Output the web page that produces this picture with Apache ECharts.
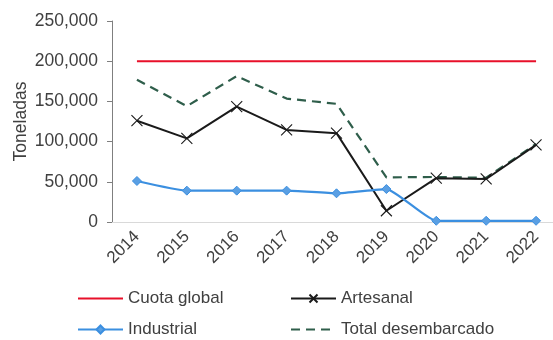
<!DOCTYPE html>
<html>
<head>
<meta charset="utf-8">
<script src="https://cdn.jsdelivr.net/npm/echarts@6/dist/echarts.min.js"></script>
<style>
  html, body { margin: 0; padding: 0; background: #fff; overflow: hidden; }
  /* plot area runs a little past the right edge of the window */
  #chart { width: 561px; height: 340px; }
</style>
</head>
<body>
<div id="chart"></div>
<script>
// Years on the category axis
const years = ['2014', '2015', '2016', '2017', '2018', '2019', '2020', '2021', '2022'];
// Landings and quota, in tonnes
const cuotaGlobal = [200000, 200000, 200000, 200000, 200000, 200000, 200000, 200000, 200000];
const artesanal = [126000, 104000, 143500, 114500, 110500, 14000, 54500, 53500, 96000];
const industrial = [51000, 39000, 39000, 39000, 35700, 41000, 1500, 1500, 1500];
const totalDesembarcado = [177000, 144000, 181500, 153500, 147000, 55500, 56000, 55000, 97000];

const font = 'Liberation Sans, Arial, sans-serif';
const txt = '#404040';
const crossPath = 'path://M0,0L10,10M10,0L0,10';

const chart = echarts.init(document.getElementById('chart'), null, { renderer: 'canvas' });

const legendBase = {
  itemWidth: 45,
  itemHeight: 10,
  textStyle: { fontFamily: font, fontSize: 17, color: txt },
  itemGap: 0,
  padding: 0
};

chart.setOption({
  animation: false,
  backgroundColor: '#fff',
  grid: { left: 112, right: 0, top: 21, bottom: 118, containLabel: false },
  legend: [
    Object.assign({ data: [{ name: 'Cuota global', itemStyle: { opacity: 0 } }], left: 77, top: 290 }, legendBase),
    Object.assign({ data: ['Artesanal'], left: 290, top: 290 }, legendBase),
    Object.assign({ data: ['Industrial'], left: 77, top: 321 }, legendBase),
    Object.assign({ data: [{ name: 'Total desembarcado', itemStyle: { opacity: 0 } }], left: 290, top: 321 }, legendBase)
  ],
  xAxis: {
    type: 'category',
    data: years,
    boundaryGap: true,
    axisLine: { lineStyle: { color: '#d9d9d9', width: 1 } },
    axisTick: { show: false },
    axisLabel: {
      rotate: 45,
      interval: 0,
      fontFamily: font,
      fontSize: 17,
      color: txt,
      margin: 12
    }
  },
  yAxis: {
    type: 'value',
    min: 0,
    max: 250000,
    interval: 50000,
    name: 'Toneladas',
    nameLocation: 'middle',
    nameGap: 82,
    nameMoveOverlap: false,
    nameTextStyle: { fontFamily: font, fontSize: 17.5, color: txt },
    axisLine: { show: true, lineStyle: { color: '#7f7f7f', width: 1 } },
    axisTick: { show: true, length: 5, lineStyle: { color: '#7f7f7f' } },
    splitLine: { show: false },
    axisLabel: {
      fontFamily: font,
      fontSize: 17.5,
      color: txt,
      margin: 14,
      formatter: v => v.toLocaleString('en-US')
    }
  },
  series: [
    {
      name: 'Cuota global',
      type: 'line',
      data: cuotaGlobal,
      symbol: 'none',
      lineStyle: { color: '#e8102a', width: 2 },
      itemStyle: { color: '#e8102a' },
      z: 2
    },
    {
      name: 'Total desembarcado',
      type: 'line',
      data: totalDesembarcado,
      symbol: 'none',
      lineStyle: { color: '#2f5e4b', width: 2.2, type: [9, 6] },
      itemStyle: { color: '#2f5e4b' },
      z: 3
    },
    {
      name: 'Artesanal',
      type: 'line',
      data: artesanal,
      symbol: crossPath,
      symbolSize: 11,
      showAllSymbol: true,
      lineStyle: { color: '#1a1a1a', width: 2 },
      itemStyle: { color: 'transparent', borderColor: '#1a1a1a', borderWidth: 1.1 },
      z: 4
    },
    {
      name: 'Industrial',
      type: 'line',
      data: industrial,
      symbol: 'diamond',
      symbolSize: 9,
      showAllSymbol: true,
      smooth: 0.15,
      lineStyle: { color: '#3b8fe0', width: 2.2 },
      itemStyle: { color: '#5a9fe3', borderColor: '#3b8fe0', borderWidth: 1 },
      z: 5
    }
  ]
});
</script>
</body>
</html>
